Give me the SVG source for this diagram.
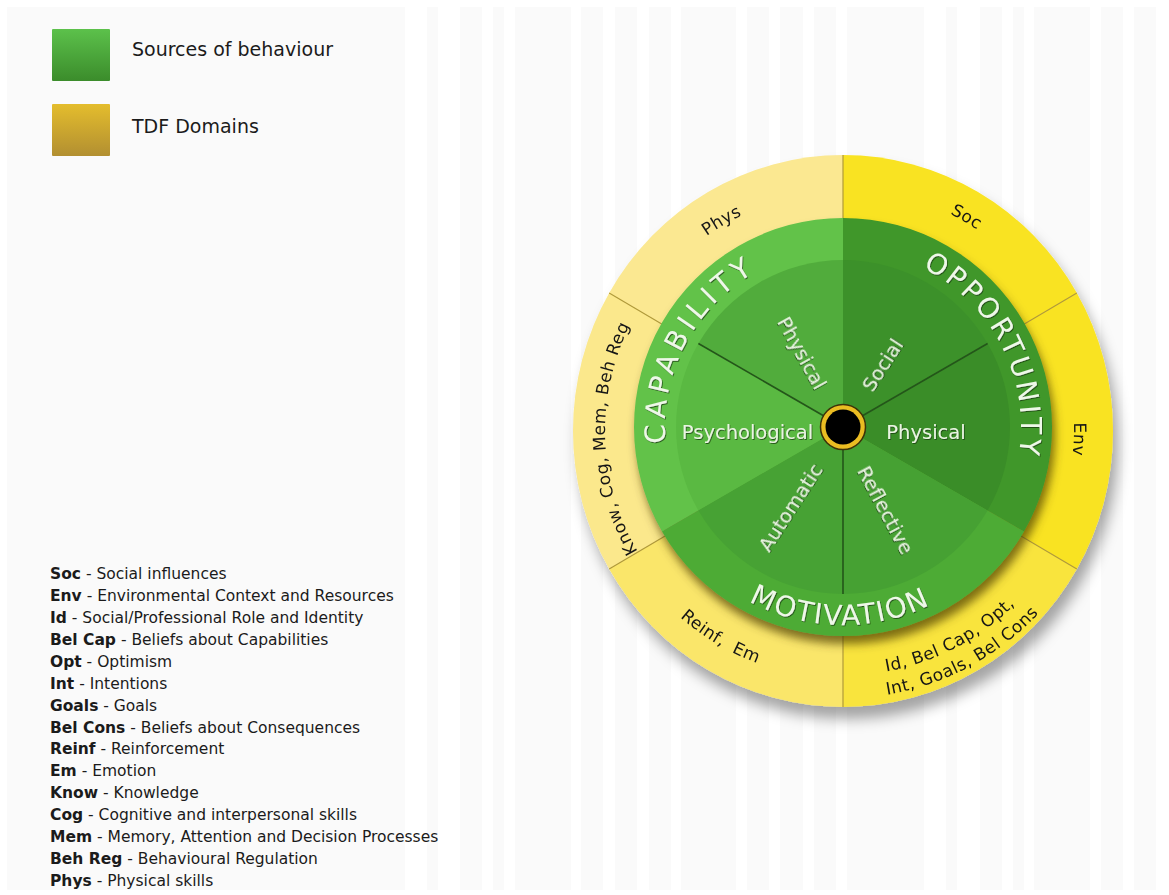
<svg xmlns="http://www.w3.org/2000/svg" width="1169" height="895" viewBox="0 0 1169 895">
  <defs>
    <linearGradient id="gSources" x1="0" y1="0" x2="0" y2="1">
      <stop offset="0" stop-color="#5cc14b"/>
      <stop offset="1" stop-color="#3b8c2b"/>
    </linearGradient>
    <linearGradient id="gDomains" x1="0" y1="0" x2="0" y2="1">
      <stop offset="0" stop-color="#e4bd2d"/>
      <stop offset="1" stop-color="#b28f31"/>
    </linearGradient>
    <filter id="wheelShadow" x="-20%" y="-20%" width="150%" height="150%">
      <feDropShadow dx="5" dy="12" stdDeviation="7" flood-color="#000" flood-opacity="0.35"/>
    </filter>
    <filter id="discShadow" x="-20%" y="-20%" width="150%" height="150%">
      <feDropShadow dx="3" dy="8" stdDeviation="5" flood-color="#4a3c00" flood-opacity="0.7"/>
    </filter>
    <filter id="labelShadow" x="-10%" y="-30%" width="120%" height="160%">
      <feDropShadow dx="0.8" dy="1" stdDeviation="0.6" flood-color="#173d0c" flood-opacity="0.8"/>
    </filter>
    <!-- baselines for the curved labels -->
    <path id="arcPhys" d="M-238,0 A238,238 0 0 1 119,-206.12"/>
    <path id="arcSoc" d="M-121,-209.58 A242,242 0 0 1 242,0"/>
    <path id="arcEnv" d="M122.41,-195.89 A231,231 0 0 1 108.45,203.95"/>
    <path id="arcKnow" d="M-111.74,210.13 A238,238 0 0 1 -126.12,-201.82"/>
    <path id="arcId1" d="M-131.26,206.04 A244.3,244.3 0 0 0 244.07,10.66"/>
    <path id="arcId2" d="M-140.52,227.50 A267.4,267.4 0 0 0 267.28,7.93"/>
    <path id="arcReinf" d="M-247.38,-3.02 A247.4,247.4 0 0 0 121.08,215.76"/>
    <path id="arcCap" d="M-150.94,94.32 A178,178 0 0 1 -6.21,-177.89"/>
    <path id="arcOpp" d="M9.32,-177.76 A178,178 0 0 1 149.29,96.94"/>
    <path id="arcMot" d="M-173.17,95.99 A198,198 0 0 0 169.72,101.98"/>
  </defs>
  <style>
    .txt { font-family: "DejaVu Sans", "Liberation Sans", sans-serif; fill: #1b1b1b; }
    .key { font-size: 19px; }
    .list { font-size: 15.5px; }
    .abbr { font-weight: bold; }
    .ring { font-size: 17px; fill: #161616; letter-spacing: 0.5px; }
    .source { font-family: "DejaVu Sans", "Liberation Sans", sans-serif; font-size: 28px; fill: #eef8e8; filter: url(#labelShadow); }
    .sub { font-family: "DejaVu Sans", "Liberation Sans", sans-serif; font-size: 19.5px; fill: #e9f5e1; filter: url(#labelShadow); text-anchor: middle; }
    .divider { stroke: #b09a3a; stroke-width: 1.2; }
    .spoke { stroke: #24561a; stroke-width: 1.6; }
    .stripe { fill: #fafafa; }
  </style>

  <!-- page background -->
  <rect width="1169" height="895" fill="#ffffff"/>
  <g id="background-stripes">
    <rect class="stripe" x="7" y="7" width="398" height="883"/>
    <rect class="stripe" x="427" y="7" width="11" height="883"/>
    <rect class="stripe" x="460" y="7" width="22" height="883"/>
    <rect class="stripe" x="493" y="7" width="11" height="883"/>
    <rect class="stripe" x="515" y="7" width="56" height="883"/>
    <rect class="stripe" x="581" y="7" width="22" height="883"/>
    <rect class="stripe" x="615" y="7" width="22" height="883"/>
    <rect class="stripe" x="649" y="7" width="22" height="883"/>
    <rect class="stripe" x="681" y="7" width="55" height="883"/>
    <rect class="stripe" x="747" y="7" width="22" height="883"/>
    <rect class="stripe" x="780" y="7" width="23" height="883"/>
    <rect class="stripe" x="814" y="7" width="22" height="883"/>
    <rect class="stripe" x="847" y="7" width="77" height="883"/>
    <rect class="stripe" x="946" y="7" width="11" height="883"/>
    <rect class="stripe" x="980" y="7" width="22" height="883"/>
    <rect class="stripe" x="1013" y="7" width="11" height="883"/>
    <rect class="stripe" x="1034" y="7" width="56" height="883"/>
    <rect class="stripe" x="1101" y="7" width="22" height="883"/>
    <rect class="stripe" x="1134" y="7" width="22" height="883"/>
  </g>

  <!-- key -->
  <g id="key-sources">
    <rect x="52" y="29" width="58" height="52" rx="1" fill="url(#gSources)"/>
    <text class="txt key" x="132" y="56">Sources of behaviour</text>
  </g>
  <g id="key-domains">
    <rect x="52" y="104" width="58" height="52" rx="1" fill="url(#gDomains)"/>
    <text class="txt key" x="132" y="133">TDF Domains</text>
  </g>

  <!-- abbreviations -->
  <g id="abbreviations" class="txt list">
    <text x="50" y="579"><tspan class="abbr">Soc</tspan> - Social influences</text>
    <text x="50" y="600.9"><tspan class="abbr">Env</tspan> - Environmental Context and Resources</text>
    <text x="50" y="622.9"><tspan class="abbr">Id</tspan> - Social/Professional Role and Identity</text>
    <text x="50" y="644.8"><tspan class="abbr">Bel Cap</tspan> - Beliefs about Capabilities</text>
    <text x="50" y="666.7"><tspan class="abbr">Opt</tspan> - Optimism</text>
    <text x="50" y="688.7"><tspan class="abbr">Int</tspan> - Intentions</text>
    <text x="50" y="710.6"><tspan class="abbr">Goals</tspan> - Goals</text>
    <text x="50" y="732.5"><tspan class="abbr">Bel Cons</tspan> - Beliefs about Consequences</text>
    <text x="50" y="754.4"><tspan class="abbr">Reinf</tspan> - Reinforcement</text>
    <text x="50" y="776.4"><tspan class="abbr">Em</tspan> - Emotion</text>
    <text x="50" y="798.3"><tspan class="abbr">Know</tspan> - Knowledge</text>
    <text x="50" y="820.2"><tspan class="abbr">Cog</tspan> - Cognitive and interpersonal skills</text>
    <text x="50" y="842.2"><tspan class="abbr">Mem</tspan> - Memory, Attention and Decision Processes</text>
    <text x="50" y="864.1"><tspan class="abbr">Beh Reg</tspan> - Behavioural Regulation</text>
    <text x="50" y="886"><tspan class="abbr">Phys</tspan> - Physical skills</text>
  </g>

  <!-- outer ring: TDF domains -->
  <g id="tdf-domains" transform="translate(843,431)" filter="url(#wheelShadow)">
    <g id="domain-phys">
      <path d="M0,0 L-233.83,-138 A270,276 0 0 1 0,-276 Z" fill="#fbe891"/>
      <text class="txt ring"><textPath href="#arcPhys" startOffset="50%" text-anchor="middle">Phys</textPath></text>
    </g>
    <g id="domain-soc">
      <path d="M0,0 L0,-276 A270,276 0 0 1 233.83,-138 Z" fill="#f9e322"/>
      <text class="txt ring"><textPath href="#arcSoc" startOffset="50%" text-anchor="middle">Soc</textPath></text>
    </g>
    <g id="domain-env">
      <path d="M0,0 L233.83,-138 A270,276 0 0 1 233.83,138 Z" fill="#f9e322"/>
      <text class="txt ring"><textPath href="#arcEnv" startOffset="50%" text-anchor="middle">Env</textPath></text>
    </g>
    <g id="domain-reflective">
      <path d="M0,0 L233.83,138 A270,276 0 0 1 0,276 Z" fill="#f9e43c"/>
      <text class="txt ring" letter-spacing="0.8"><textPath href="#arcId1" startOffset="50%" text-anchor="middle">Id, Bel Cap, Opt,</textPath></text>
      <text class="txt ring" letter-spacing="0.8"><textPath href="#arcId2" startOffset="50%" text-anchor="middle">Int, Goals, Bel Cons</textPath></text>
    </g>
    <g id="domain-automatic">
      <path d="M0,0 L0,276 A270,276 0 0 1 -233.83,138 Z" fill="#fae66a"/>
      <text class="txt ring" word-spacing="5"><textPath href="#arcReinf" startOffset="50%" text-anchor="middle">Reinf, Em</textPath></text>
    </g>
    <g id="domain-psychological">
      <path d="M0,0 L-233.83,138 A270,276 0 0 1 -233.83,-138 Z" fill="#fbe88c"/>
      <text class="txt ring"><textPath href="#arcKnow" startOffset="50%" text-anchor="middle">Know, Cog, Mem, Beh Reg</textPath></text>
    </g>
    <g id="domain-dividers">
      <line class="divider" x1="0" y1="0" x2="0" y2="-276"/>
      <line class="divider" x1="0" y1="0" x2="233.83" y2="-138"/>
      <line class="divider" x1="0" y1="0" x2="233.83" y2="138"/>
      <line class="divider" x1="0" y1="0" x2="0" y2="276"/>
      <line class="divider" x1="0" y1="0" x2="-233.83" y2="138"/>
      <line class="divider" x1="0" y1="0" x2="-233.83" y2="-138"/>
    </g>
  </g>

  <!-- inner wheel: sources of behaviour -->
  <g id="com-b" transform="translate(843,427)">
    <g filter="url(#discShadow)">
      <path id="ring-capability" d="M0,0 L-181,104.5 A209,209 0 0 1 0,-209 Z" fill="#62c24a"/>
      <path id="ring-opportunity" d="M0,0 L0,-209 A209,209 0 0 1 181,104.5 Z" fill="#3f972c"/>
      <path id="ring-motivation" d="M0,0 L181,104.5 A209,209 0 0 1 -181,104.5 Z" fill="#4dab36"/>
    </g>
    <g id="capability-physical">
      <path d="M0,0 L-144.62,-83.5 A167,167 0 0 1 0,-167 Z" fill="#51ac3c"/>
      <text class="sub" transform="translate(-41,-74) rotate(61)" y="7">Physical</text>
    </g>
    <g id="capability-psychological">
      <path d="M0,0 L-144.62,83.5 A167,167 0 0 1 -144.62,-83.5 Z" fill="#5ab942"/>
      <text class="sub" x="-95.5" y="12">Psychological</text>
    </g>
    <g id="opportunity-social">
      <path d="M0,0 L0,-167 A167,167 0 0 1 144.62,-83.5 Z" fill="#3c912a"/>
      <text class="sub" transform="translate(39.5,-62) rotate(-57)" y="7">Social</text>
    </g>
    <g id="opportunity-physical">
      <path d="M0,0 L144.62,-83.5 A167,167 0 0 1 144.62,83.5 Z" fill="#3a8d28"/>
      <text class="sub" x="83" y="12">Physical</text>
    </g>
    <g id="motivation-reflective">
      <path d="M0,0 L144.62,83.5 A167,167 0 0 1 0,167 Z" fill="#46a133"/>
      <text class="sub" transform="translate(42.5,83) rotate(62)" y="7">Reflective</text>
    </g>
    <g id="motivation-automatic">
      <path d="M0,0 L0,167 A167,167 0 0 1 -144.62,83.5 Z" fill="#47a234"/>
      <text class="sub" transform="translate(-52.5,80.5) rotate(-57)" y="7">Automatic</text>
    </g>
    <g id="source-labels">
      <text class="source" letter-spacing="4.8"><textPath href="#arcCap" startOffset="50%" text-anchor="middle">CAPABILITY</textPath></text>
      <text class="source" letter-spacing="2.8"><textPath href="#arcOpp" startOffset="50%" text-anchor="middle">OPPORTUNITY</textPath></text>
      <text class="source" letter-spacing="1.5"><textPath href="#arcMot" startOffset="50%" text-anchor="middle">MOTIVATION</textPath></text>
    </g>
    <g id="spokes">
      <line class="spoke" x1="0" y1="0" x2="-144.62" y2="-83.5"/>
      <line class="spoke" x1="0" y1="0" x2="144.62" y2="-83.5"/>
      <line class="spoke" x1="0" y1="0" x2="0" y2="167"/>
    </g>
    <g id="behaviour-hub">
      <circle r="22.5" fill="#ebbd22" stroke="#3e3208" stroke-width="1.5"/>
      <circle r="17.5" fill="#000000"/>
    </g>
  </g>
</svg>
